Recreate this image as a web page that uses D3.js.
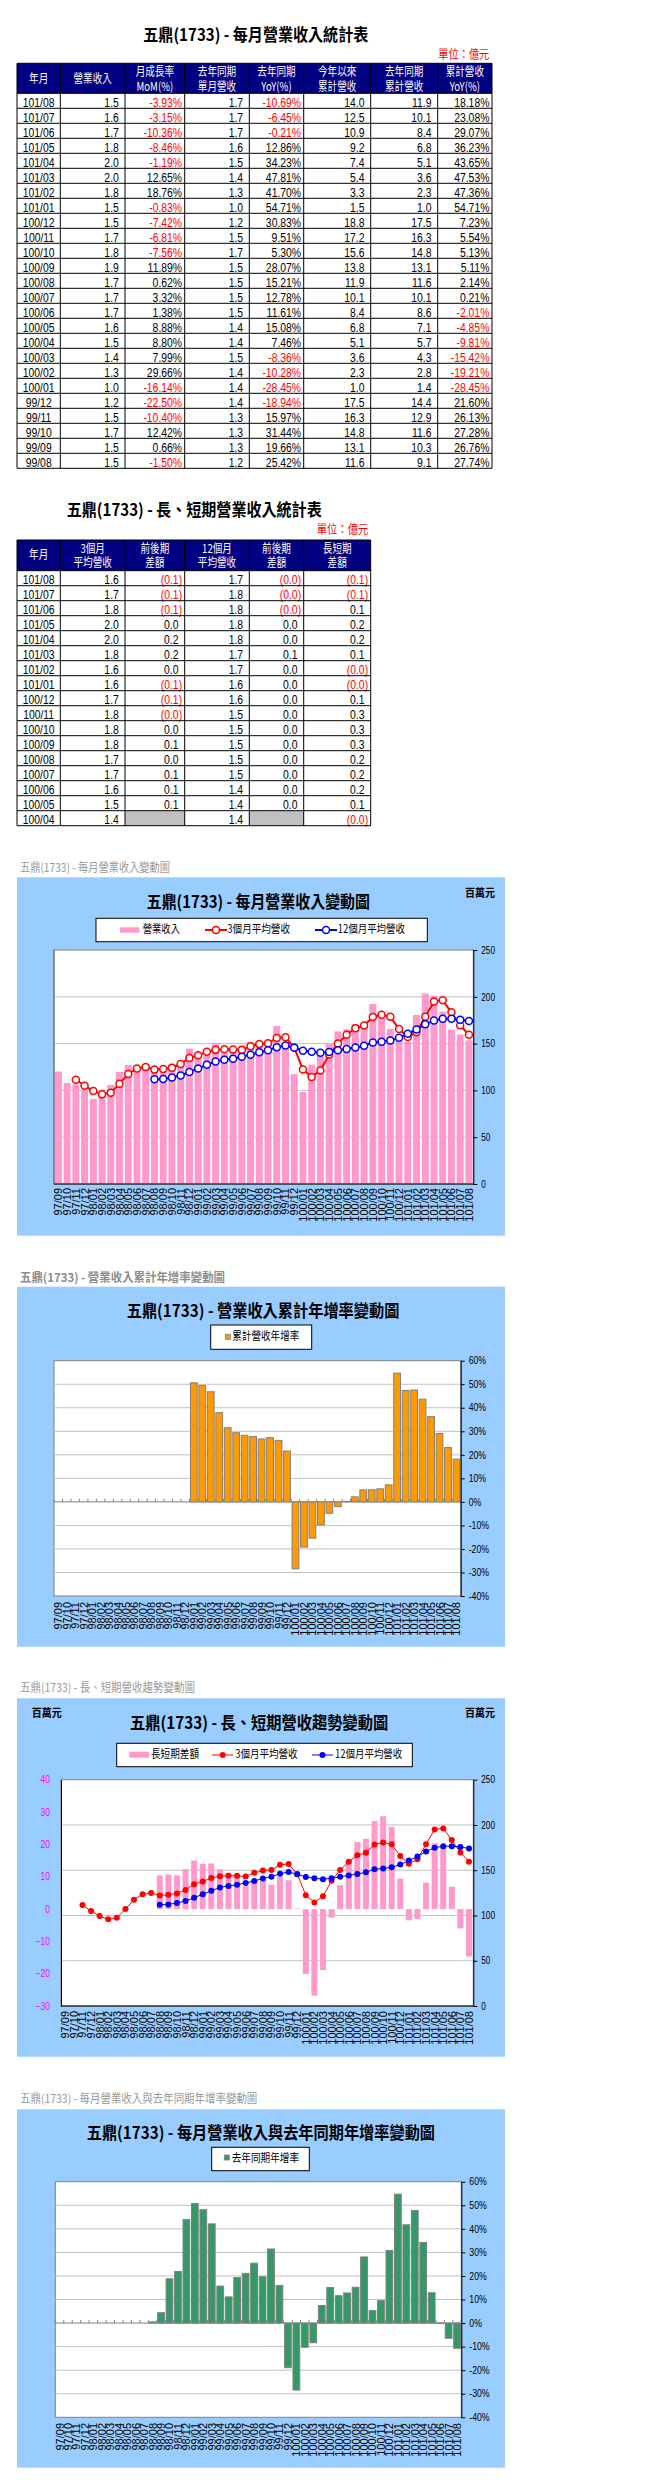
<!DOCTYPE html>
<html><head><meta charset="utf-8">
<script src="https://cdn.jsdelivr.net/npm/d3@7/dist/d3.min.js"></script>
<style>body{margin:0;background:#fff}svg{display:block}</style>
</head><body>
<svg id="page" width="655" height="2491"></svg>
<script>
// ---------------- DATA ----------------
const months = ["97/09","97/10","97/11","97/12","98/01","98/02","98/03","98/04","98/05","98/06","98/07","98/08","98/09","98/10","98/11","98/12","99/01","99/02","99/03","99/04","99/05","99/06","99/07","99/08","99/09","99/10","99/11","99/12","100/01","100/02","100/03","100/04","100/05","100/06","100/07","100/08","100/09","100/10","100/11","100/12","101/01","101/02","101/03","101/04","101/05","101/06","101/07","101/08"];
// monthly revenue (百萬元)
const revenue = [120.1,108.0,106.5,100.5,91.0,96.0,105.8,119.7,127.1,123.5,124.2,119.0,125.5,128.5,130.5,144.7,137.4,142.1,150.3,139.4,141.7,148.2,151.5,149.2,150.2,168.9,151.3,117.3,98.3,127.5,137.7,149.8,163.1,165.4,170.9,171.9,192.4,177.8,165.7,153.4,152.1,180.6,203.5,201.1,184.1,165.0,159.8,153.5];
// 3-month average revenue
const avg3 = [null,null,111.5,105.0,99.3,95.8,97.6,107.2,117.5,123.4,124.9,122.2,122.9,124.3,128.2,134.6,137.5,141.4,143.3,143.9,143.8,143.1,147.1,149.6,150.3,156.1,156.8,145.8,122.3,114.4,121.2,138.3,150.2,159.4,166.5,169.4,178.4,180.7,178.6,165.6,157.1,162.0,178.7,195.1,196.2,183.4,169.6,159.4];
// 12-month average revenue
const avg12 = [null,null,null,null,null,null,null,null,null,null,null,111.8,112.2,113.9,115.9,119.6,123.5,127.3,131.0,132.7,133.9,136.0,138.2,140.8,142.8,146.2,147.9,145.6,142.4,141.2,140.1,141.0,142.8,144.2,145.8,147.7,151.2,152.0,153.2,156.2,160.6,165.1,170.6,174.8,176.6,176.5,175.6,174.1];
// long - short difference
const longShort = [null,null,null,null,null,null,null,null,null,null,null,10.4,10.7,10.4,12.3,15.0,14.0,14.1,12.3,11.2,9.9,7.1,8.9,8.8,7.5,9.9,8.9,0.2,-20.1,-26.8,-18.9,-2.7,7.4,15.2,20.7,21.7,27.2,28.7,25.4,9.4,-3.5,-3.1,8.1,20.3,19.6,6.9,-6.0,-14.7];
// cumulative YoY (%)
const cumYoY = [null,null,null,null,null,null,null,null,null,null,null,null,null,null,null,null,50.6,49.5,46.8,37.9,31.5,29.4,28.3,27.74,26.76,27.28,26.13,21.60,-28.45,-19.21,-15.42,-9.81,-4.85,-2.01,0.21,2.14,5.11,5.13,5.54,7.23,54.71,47.36,47.53,43.65,36.23,29.07,23.08,18.18];
// monthly YoY (%)
const monthYoY = [null,null,null,null,null,null,null,null,null,null,null,0.5,4.4,18.8,21.9,43.9,50.7,48.1,42.1,15.7,11.1,19.3,21.1,25.42,19.66,31.44,15.97,-18.94,-28.45,-10.28,-8.36,7.46,15.08,11.61,12.78,15.21,28.07,5.30,9.51,30.83,54.71,41.70,47.81,34.23,12.86,-0.21,-6.45,-10.69];
const ticksRev = [0,50,100,150,200,250];
const ticksPct = [-40,-30,-20,-10,0,10,20,30,40,50,60];
const ticksDiff = [-30,-20,-10,0,10,20,30,40];

// Table 1
const t1Headers = [["年月"],["營業收入"],["月成長率","MoM(%)"],["去年同期","單月營收"],["去年同期","YoY(%)"],["今年以來","累計營收"],["去年同期","累計營收"],["累計營收","YoY(%)"]];
const t1Month = ["101/08","101/07","101/06","101/05","101/04","101/03","101/02","101/01","100/12","100/11","100/10","100/09","100/08","100/07","100/06","100/05","100/04","100/03","100/02","100/01","99/12","99/11","99/10","99/09","99/08"];
const t1Rev = ["1.5","1.6","1.7","1.8","2.0","2.0","1.8","1.5","1.5","1.7","1.8","1.9","1.7","1.7","1.7","1.6","1.5","1.4","1.3","1.0","1.2","1.5","1.7","1.5","1.5"];
const t1MoM = ["-3.93%","-3.15%","-10.36%","-8.46%","-1.19%","12.65%","18.76%","-0.83%","-7.42%","-6.81%","-7.56%","11.89%","0.62%","3.32%","1.38%","8.88%","8.80%","7.99%","29.66%","-16.14%","-22.50%","-10.40%","12.42%","0.66%","-1.50%"];
const t1PrevRev = ["1.7","1.7","1.7","1.6","1.5","1.4","1.3","1.0","1.2","1.5","1.7","1.5","1.5","1.5","1.5","1.4","1.4","1.5","1.4","1.4","1.4","1.3","1.3","1.3","1.2"];
const t1YoY = ["-10.69%","-6.45%","-0.21%","12.86%","34.23%","47.81%","41.70%","54.71%","30.83%","9.51%","5.30%","28.07%","15.21%","12.78%","11.61%","15.08%","7.46%","-8.36%","-10.28%","-28.45%","-18.94%","15.97%","31.44%","19.66%","25.42%"];
const t1Cum = ["14.0","12.5","10.9","9.2","7.4","5.4","3.3","1.5","18.8","17.2","15.6","13.8","11.9","10.1","8.4","6.8","5.1","3.6","2.3","1.0","17.5","16.3","14.8","13.1","11.6"];
const t1PrevCum = ["11.9","10.1","8.4","6.8","5.1","3.6","2.3","1.0","17.5","16.3","14.8","13.1","11.6","10.1","8.6","7.1","5.7","4.3","2.8","1.4","14.4","12.9","11.6","10.3","9.1"];
const t1CumYoY = ["18.18%","23.08%","29.07%","36.23%","43.65%","47.53%","47.36%","54.71%","7.23%","5.54%","5.13%","5.11%","2.14%","0.21%","-2.01%","-4.85%","-9.81%","-15.42%","-19.21%","-28.45%","21.60%","26.13%","27.28%","26.76%","27.74%"];

// Table 2
const t2Headers = [["年月"],["3個月","平均營收"],["前後期","差額"],["12個月","平均營收"],["前後期","差額"],["長短期","差額"]];
const t2Month = ["101/08","101/07","101/06","101/05","101/04","101/03","101/02","101/01","100/12","100/11","100/10","100/09","100/08","100/07","100/06","100/05","100/04"];
const t2Avg3 = ["1.6","1.7","1.8","2.0","2.0","1.8","1.6","1.6","1.7","1.8","1.8","1.8","1.7","1.7","1.6","1.5","1.4"];
const t2Avg3Diff = ["(0.1)","(0.1)","(0.1)","0.0","0.2","0.2","0.0","(0.1)","(0.1)","(0.0)","0.0","0.1","0.0","0.1","0.1","0.1",null];
const t2Avg12 = ["1.7","1.8","1.8","1.8","1.8","1.7","1.7","1.6","1.6","1.5","1.5","1.5","1.5","1.5","1.4","1.4","1.4"];
const t2Avg12Diff = ["(0.0)","(0.0)","(0.0)","0.0","0.0","0.1","0.0","0.0","0.0","0.0","0.0","0.0","0.0","0.0","0.0","0.0",null];
const t2LongShort = ["(0.1)","(0.1)","0.1","0.2","0.2","0.1","(0.0)","(0.0)","0.1","0.3","0.3","0.3","0.2","0.2","0.2","0.1","(0.0)"];

// ---------------- DRAWING ----------------
const CJK = "'Noto Sans CJK TC','Noto Sans CJK SC','Noto Sans CJK JP',sans-serif";
const LAT = "'Liberation Sans',Arial,sans-serif";
const svg = d3.select("#page");

function txt(g, x, y, s, o = {}) {
  const t = g.append("text").text(s)
    .attr("font-family", o.family || CJK)
    .attr("font-size", o.size || 12)
    .attr("fill", o.fill || "#000")
    .attr("text-anchor", o.anchor || "start");
  if (o.weight) t.attr("font-weight", o.weight);
  let tr = `translate(${x},${y})`;
  if (o.rotate) tr += ` rotate(${o.rotate})`;
  if (o.sx && o.sx !== 1) tr += ` scale(${o.sx},1)`;
  t.attr("transform", tr);
  if (o.len) t.attr("textLength", o.len).attr("lengthAdjust", "spacingAndGlyphs");
  return t;
}

const colX = [17, 60.3, 125, 184.7, 249.3, 303.7, 370.7, 437.7, 492];

function drawTable(top, headH, headers, cols) {
  const nC = headers.length, nR = cols[0].length, rowH = 15;
  const xs = colX.slice(0, nC + 1);
  const g = svg.append("g");
  const bodyTop = top + headH, bottom = bodyTop + nR * rowH;
  g.append("rect").attr("x", xs[0]).attr("y", top).attr("width", xs[nC] - xs[0]).attr("height", headH).attr("fill", "#000080");
  headers.forEach((h, c) => {
    const cx = (xs[c] + xs[c + 1]) / 2;
    const ho = {size: 12, fill: "#fff", anchor: "middle", sx: 0.8};
    if (h.length === 1) txt(g, cx, top + 19.4, h[0], ho);
    else { txt(g, cx, top + 12.7, h[0], ho); txt(g, cx, top + 27.3, h[1], ho); }
  });
  cols.forEach((col, c) => col.forEach((v, r) => {
    const y = bodyTop + r * rowH;
    if (v === null) {
      g.append("rect").attr("x", xs[c]).attr("y", y).attr("width", xs[c + 1] - xs[c]).attr("height", rowH).attr("fill", "#C0C0C0");
      return;
    }
    const red = v[0] === "-" || v[0] === "(";
    if (c === 0) txt(g, (xs[0] + xs[1]) / 2, y + 13.3, v, {family: LAT, size: 13, sx: 0.8, anchor: "middle"});
    else {
      const pad = /[%)]$/.test(v) ? 2.6 : 6.2;
      txt(g, xs[c + 1] - pad, y + 13.3, v, {family: LAT, size: 13, sx: 0.8, anchor: "end", fill: red ? "#FF0000" : "#000"});
    }
  }));
  const L = g.append("g").attr("stroke", "#000").attr("stroke-width", 1);
  const ys = [top, bodyTop].concat(d3.range(1, nR + 1).map(i => bodyTop + i * rowH));
  ys.forEach(y => L.append("line").attr("x1", xs[0]).attr("x2", xs[nC]).attr("y1", y).attr("y2", y));
  xs.forEach(x => L.append("line").attr("x1", x).attr("x2", x).attr("y1", top).attr("y2", bottom));
}

// Table 1
txt(svg, 143.3, 40.5, "五鼎(1733) - 每月營業收入統計表", {size: 17, weight: "bold", len: 225});
txt(svg, 438.3, 58.5, "單位：億元", {size: 12, fill: "#FF0000", len: 51});
drawTable(63.3, 30, t1Headers, [t1Month, t1Rev, t1MoM, t1PrevRev, t1YoY, t1Cum, t1PrevCum, t1CumYoY]);

// Table 2
txt(svg, 66.7, 515.5, "五鼎(1733) - 長、短期營業收入統計表", {size: 17, weight: "bold", len: 255});
txt(svg, 316.7, 533.5, "單位：億元", {size: 12, fill: "#FF0000", len: 51.6});
drawTable(540, 30.7, t2Headers, [t2Month, t2Avg3, t2Avg3Diff, t2Avg12, t2Avg12Diff, t2LongShort]);

// ---------- chart helpers ----------
function frame(o) {
  svg.append("rect").attr("x", 17).attr("y", o.top).attr("width", 488).attr("height", o.bottom - o.top).attr("fill", "#99CCFF");
  txt(svg, 20, o.capY, o.caption, {size: 12, fill: o.capBold ? "#8c8c8c" : "#999999", len: o.capLen, weight: o.capBold ? "bold" : null});
  txt(svg, o.titleX, o.titleY, o.caption.replace("五鼎(1733) -", "五鼎(1733) -"), {size: 17, weight: "bold", len: o.titleLen});
}
function legendBox(x0, y0, x1, y1) {
  svg.append("rect").attr("x", x0).attr("y", y0).attr("width", x1 - x0).attr("height", y1 - y0)
    .attr("fill", "#fff").attr("stroke", "#000").attr("stroke-width", 1);
}
function plotBg(p) {
  svg.append("rect").attr("x", p.l).attr("y", p.t).attr("width", p.r - p.l).attr("height", p.b - p.t)
    .attr("fill", "#fff").attr("stroke", "#808080").attr("stroke-width", 1);
}
function grid(p, ys) {
  ys.forEach(y => svg.append("line").attr("x1", p.l).attr("x2", p.r).attr("y1", y).attr("y2", y)
    .attr("stroke", "#C0C0C0").attr("stroke-width", 1));
}
function styleAxis(g, color, sx) {
  g.select(".domain").attr("stroke", "#000");
  g.selectAll(".tick line").attr("stroke", "#000");
  g.selectAll("text").attr("font-family", LAT).attr("font-size", 10).attr("fill", color).each(function () {
    const x = +this.getAttribute("x");
    this.setAttribute("x", 0);
    this.setAttribute("transform", `translate(${x},0) scale(${sx},1)`);
  });
}
function xLabels(x, bw, y0) {
  months.forEach(m => txt(svg, x(m) + bw / 2 + 4, y0, m, {family: LAT, size: 11, anchor: "end", rotate: -90}));
}

// ---------- Chart 1 ----------
frame({top: 877.3, bottom: 1235.7, caption: "五鼎(1733) - 每月營業收入變動圖", capY: 871.5, capLen: 150, titleX: 146.7, titleY: 908, titleLen: 223.3});
txt(svg, 465, 897, "百萬元", {size: 11, weight: "bold", len: 30});
legendBox(96, 918.3, 427.3, 941.7);
svg.append("rect").attr("x", 120).attr("y", 927.3).attr("width", 19.3).attr("height", 5.4).attr("fill", "#FF99CC");
txt(svg, 142.7, 933, "營業收入", {size: 11.5, len: 37.3});
svg.append("line").attr("x1", 205).attr("x2", 227).attr("y1", 930).attr("y2", 930).attr("stroke", "#FF0000").attr("stroke-width", 2);
svg.append("circle").attr("cx", 216).attr("cy", 930).attr("r", 3.5).attr("fill", "#fff").attr("stroke", "#FF0000").attr("stroke-width", 1.5);
txt(svg, 227.3, 933, "3個月平均營收", {size: 11.5, len: 62.7});
svg.append("line").attr("x1", 315).attr("x2", 337).attr("y1", 930).attr("y2", 930).attr("stroke", "#0000FF").attr("stroke-width", 2);
svg.append("circle").attr("cx", 326).attr("cy", 930).attr("r", 3.5).attr("fill", "#fff").attr("stroke", "#0000FF").attr("stroke-width", 1.5);
txt(svg, 337.7, 933, "12個月平均營收", {size: 11.5, len: 67.3});

const p1 = {l: 54, r: 473.3, t: 950, b: 1184};
const x1 = d3.scaleBand().domain(months).range([p1.l, p1.r]).paddingInner(0.2).paddingOuter(0.1);
const y1 = d3.scaleLinear().domain([0, 250]).range([p1.b, p1.t]);
const bw1 = x1.bandwidth();
plotBg(p1);
grid(p1, [50, 100, 150, 200].map(y1));
svg.append("g").selectAll("rect").data(months).join("rect")
  .attr("x", d => x1(d)).attr("y", (d, i) => y1(revenue[i])).attr("width", bw1)
  .attr("height", (d, i) => p1.b - y1(revenue[i])).attr("fill", "#FF99CC");
function drawLine1(vals, color) {
  const pts = months.map((m, i) => ({m, v: vals[i]})).filter(d => d.v !== null);
  svg.append("path").datum(pts).attr("fill", "none").attr("stroke", color).attr("stroke-width", 2)
    .attr("d", d3.line().x(d => x1(d.m) + bw1 / 2).y(d => y1(d.v)));
  svg.append("g").selectAll("circle").data(pts).join("circle")
    .attr("cx", d => x1(d.m) + bw1 / 2).attr("cy", d => y1(d.v)).attr("r", 3.5)
    .attr("fill", "#fff").attr("stroke", color).attr("stroke-width", 1.5);
}
drawLine1(avg3, "#FF0000");
drawLine1(avg12, "#0000FF");
svg.append("line").attr("x1", p1.l).attr("x2", p1.r).attr("y1", p1.b).attr("y2", p1.b).attr("stroke", "#000");
svg.append("line").attr("x1", p1.l).attr("x2", p1.l).attr("y1", p1.t).attr("y2", p1.b).attr("stroke", "#666");
styleAxis(svg.append("g").attr("transform", `translate(${p1.r},0)`)
  .call(d3.axisRight(y1).tickValues(ticksRev).tickSize(4).tickPadding(4).tickSizeOuter(0)), "#000", 0.82);
xLabels(x1, bw1, p1.b + 4);

// ---------- Chart 2 ----------
frame({top: 1286.7, bottom: 1646.7, caption: "五鼎(1733) -  營業收入累計年增率變動圖", capY: 1281.5, capLen: 205, capBold: true, titleX: 126.7, titleY: 1316.5, titleLen: 272.7});
legendBox(210.7, 1325, 311.7, 1349.3);
svg.append("rect").attr("x", 225.3).attr("y", 1334.3).attr("width", 5).attr("height", 5).attr("fill", "#FF9900").attr("stroke", "#808080").attr("stroke-width", 0.8);
txt(svg, 232.3, 1340, "累計營收年增率", {size: 11.5, len: 67});

function pctChart(p, vals, color, labelY) {
  const x = d3.scaleBand().domain(months).range([p.l, p.r]).paddingInner(0.2).paddingOuter(0.1);
  const y = d3.scaleLinear().domain([-40, 60]).range([p.b, p.t]);
  const bw = x.bandwidth(), step = x.step();
  plotBg(p);
  grid(p, [-30, -20, -10, 10, 20, 30, 40, 50].map(y));
  // category tick marks on zero line
  d3.range(0, months.length + 1).forEach(i => {
    const xx = p.l + i * step;
    svg.append("line").attr("x1", xx).attr("x2", xx).attr("y1", y(0) - 3).attr("y2", y(0)).attr("stroke", "#808080");
  });
  svg.append("line").attr("x1", p.l).attr("x2", p.r).attr("y1", y(0)).attr("y2", y(0)).attr("stroke", "#808080");
  const data = months.map((m, i) => ({m, v: vals[i]})).filter(d => d.v !== null);
  svg.append("g").selectAll("rect").data(data).join("rect")
    .attr("x", d => x(d.m)).attr("width", bw)
    .attr("y", d => y(Math.max(0, d.v))).attr("height", d => Math.abs(y(d.v) - y(0)))
    .attr("fill", color).attr("stroke", "#808080").attr("stroke-width", 1);
  styleAxis(svg.append("g").attr("transform", `translate(${p.r},0)`)
    .call(d3.axisRight(y).tickValues(ticksPct).tickSize(4).tickPadding(4).tickSizeOuter(0).tickFormat(d => d + "%")), "#000", 0.87);
  xLabels(x, bw, labelY);
}
pctChart({l: 54, r: 460.7, t: 1360.7, b: 1596}, cumYoY, "#FF9900", 1602);

// ---------- Chart 3 ----------
frame({top: 1698.3, bottom: 2056.7, caption: "五鼎(1733) -  長、短期營收趨勢變動圖", capY: 1691.5, capLen: 175, titleX: 130, titleY: 1728.5, titleLen: 258.3});
txt(svg, 31.7, 1717, "百萬元", {size: 11, weight: "bold", len: 30});
txt(svg, 465, 1717, "百萬元", {size: 11, weight: "bold", len: 30});
legendBox(116.7, 1743.3, 412.3, 1766.7);
svg.append("rect").attr("x", 129.3).attr("y", 1751.7).attr("width", 19.7).attr("height", 6).attr("fill", "#FF99CC");
txt(svg, 151, 1758, "長短期差額", {size: 11.5, len: 48});
svg.append("line").attr("x1", 212).attr("x2", 233).attr("y1", 1755).attr("y2", 1755).attr("stroke", "#FF0000").attr("stroke-width", 1);
svg.append("circle").attr("cx", 222.7).attr("cy", 1755).attr("r", 3).attr("fill", "#FF0000");
txt(svg, 235.3, 1758, "3個月平均營收", {size: 11.5, len: 62.3});
svg.append("line").attr("x1", 312).attr("x2", 333).attr("y1", 1755).attr("y2", 1755).attr("stroke", "#0000FF").attr("stroke-width", 1);
svg.append("circle").attr("cx", 322.5).attr("cy", 1755).attr("r", 3).attr("fill", "#0000FF");
txt(svg, 335, 1758, "12個月平均營收", {size: 11.5, len: 67.3});

const p3 = {l: 61, r: 473.3, t: 1779.7, b: 2006};
const x3 = d3.scaleBand().domain(months).range([p3.l, p3.r]).paddingInner(0.3).paddingOuter(0.15);
const yL = d3.scaleLinear().domain([-30, 40]).range([p3.b, p3.t]);
const yR = d3.scaleLinear().domain([0, 250]).range([p3.b, p3.t]);
const bw3 = x3.bandwidth();
plotBg(p3);
grid(p3, [50, 100, 150, 200].map(yR));
const ls = months.map((m, i) => ({m, v: longShort[i]})).filter(d => d.v !== null);
svg.append("g").selectAll("rect").data(ls).join("rect")
  .attr("x", d => x3(d.m)).attr("width", bw3)
  .attr("y", d => yL(Math.max(0, d.v))).attr("height", d => Math.abs(yL(d.v) - yL(0)))
  .attr("fill", "#FF99CC");
function drawLine3(vals, color) {
  const pts = months.map((m, i) => ({m, v: vals[i]})).filter(d => d.v !== null);
  svg.append("path").datum(pts).attr("fill", "none").attr("stroke", color).attr("stroke-width", 1)
    .attr("d", d3.line().x(d => x3(d.m) + bw3 / 2).y(d => yR(d.v)));
  svg.append("g").selectAll("circle").data(pts).join("circle")
    .attr("cx", d => x3(d.m) + bw3 / 2).attr("cy", d => yR(d.v)).attr("r", 3).attr("fill", color);
}
drawLine3(avg3, "#FF0000");
drawLine3(avg12, "#0000FF");
svg.append("line").attr("x1", p3.l).attr("x2", p3.r).attr("y1", p3.b).attr("y2", p3.b).attr("stroke", "#000");
styleAxis(svg.append("g").attr("transform", `translate(${p3.l},0)`)
  .call(d3.axisLeft(yL).tickValues(ticksDiff).tickSize(0).tickPadding(11)), "#FF00FF", 0.85);
styleAxis(svg.append("g").attr("transform", `translate(${p3.r},0)`)
  .call(d3.axisRight(yR).tickValues(ticksRev).tickSize(4).tickPadding(4).tickSizeOuter(0)), "#000", 0.82);
xLabels(x3, bw3, p3.b + 5);

// ---------- Chart 4 ----------
frame({top: 2109.3, bottom: 2467.7, caption: "五鼎(1733) -  每月營業收入與去年同期年增率變動圖", capY: 2102.5, capLen: 237.3, titleX: 86.7, titleY: 2138.5, titleLen: 348.3});
legendBox(211.7, 2147.3, 309.3, 2170.7);
svg.append("rect").attr("x", 224.3).attr("y", 2155).attr("width", 5).attr("height", 5).attr("fill", "#339966").attr("stroke", "#808080").attr("stroke-width", 0.8);
txt(svg, 231.7, 2162, "去年同期年增率", {size: 11.5, len: 67.3});
pctChart({l: 55.3, r: 461.3, t: 2181.7, b: 2417.3}, monthYoY, "#339966", 2423);
</script>
</body></html>
